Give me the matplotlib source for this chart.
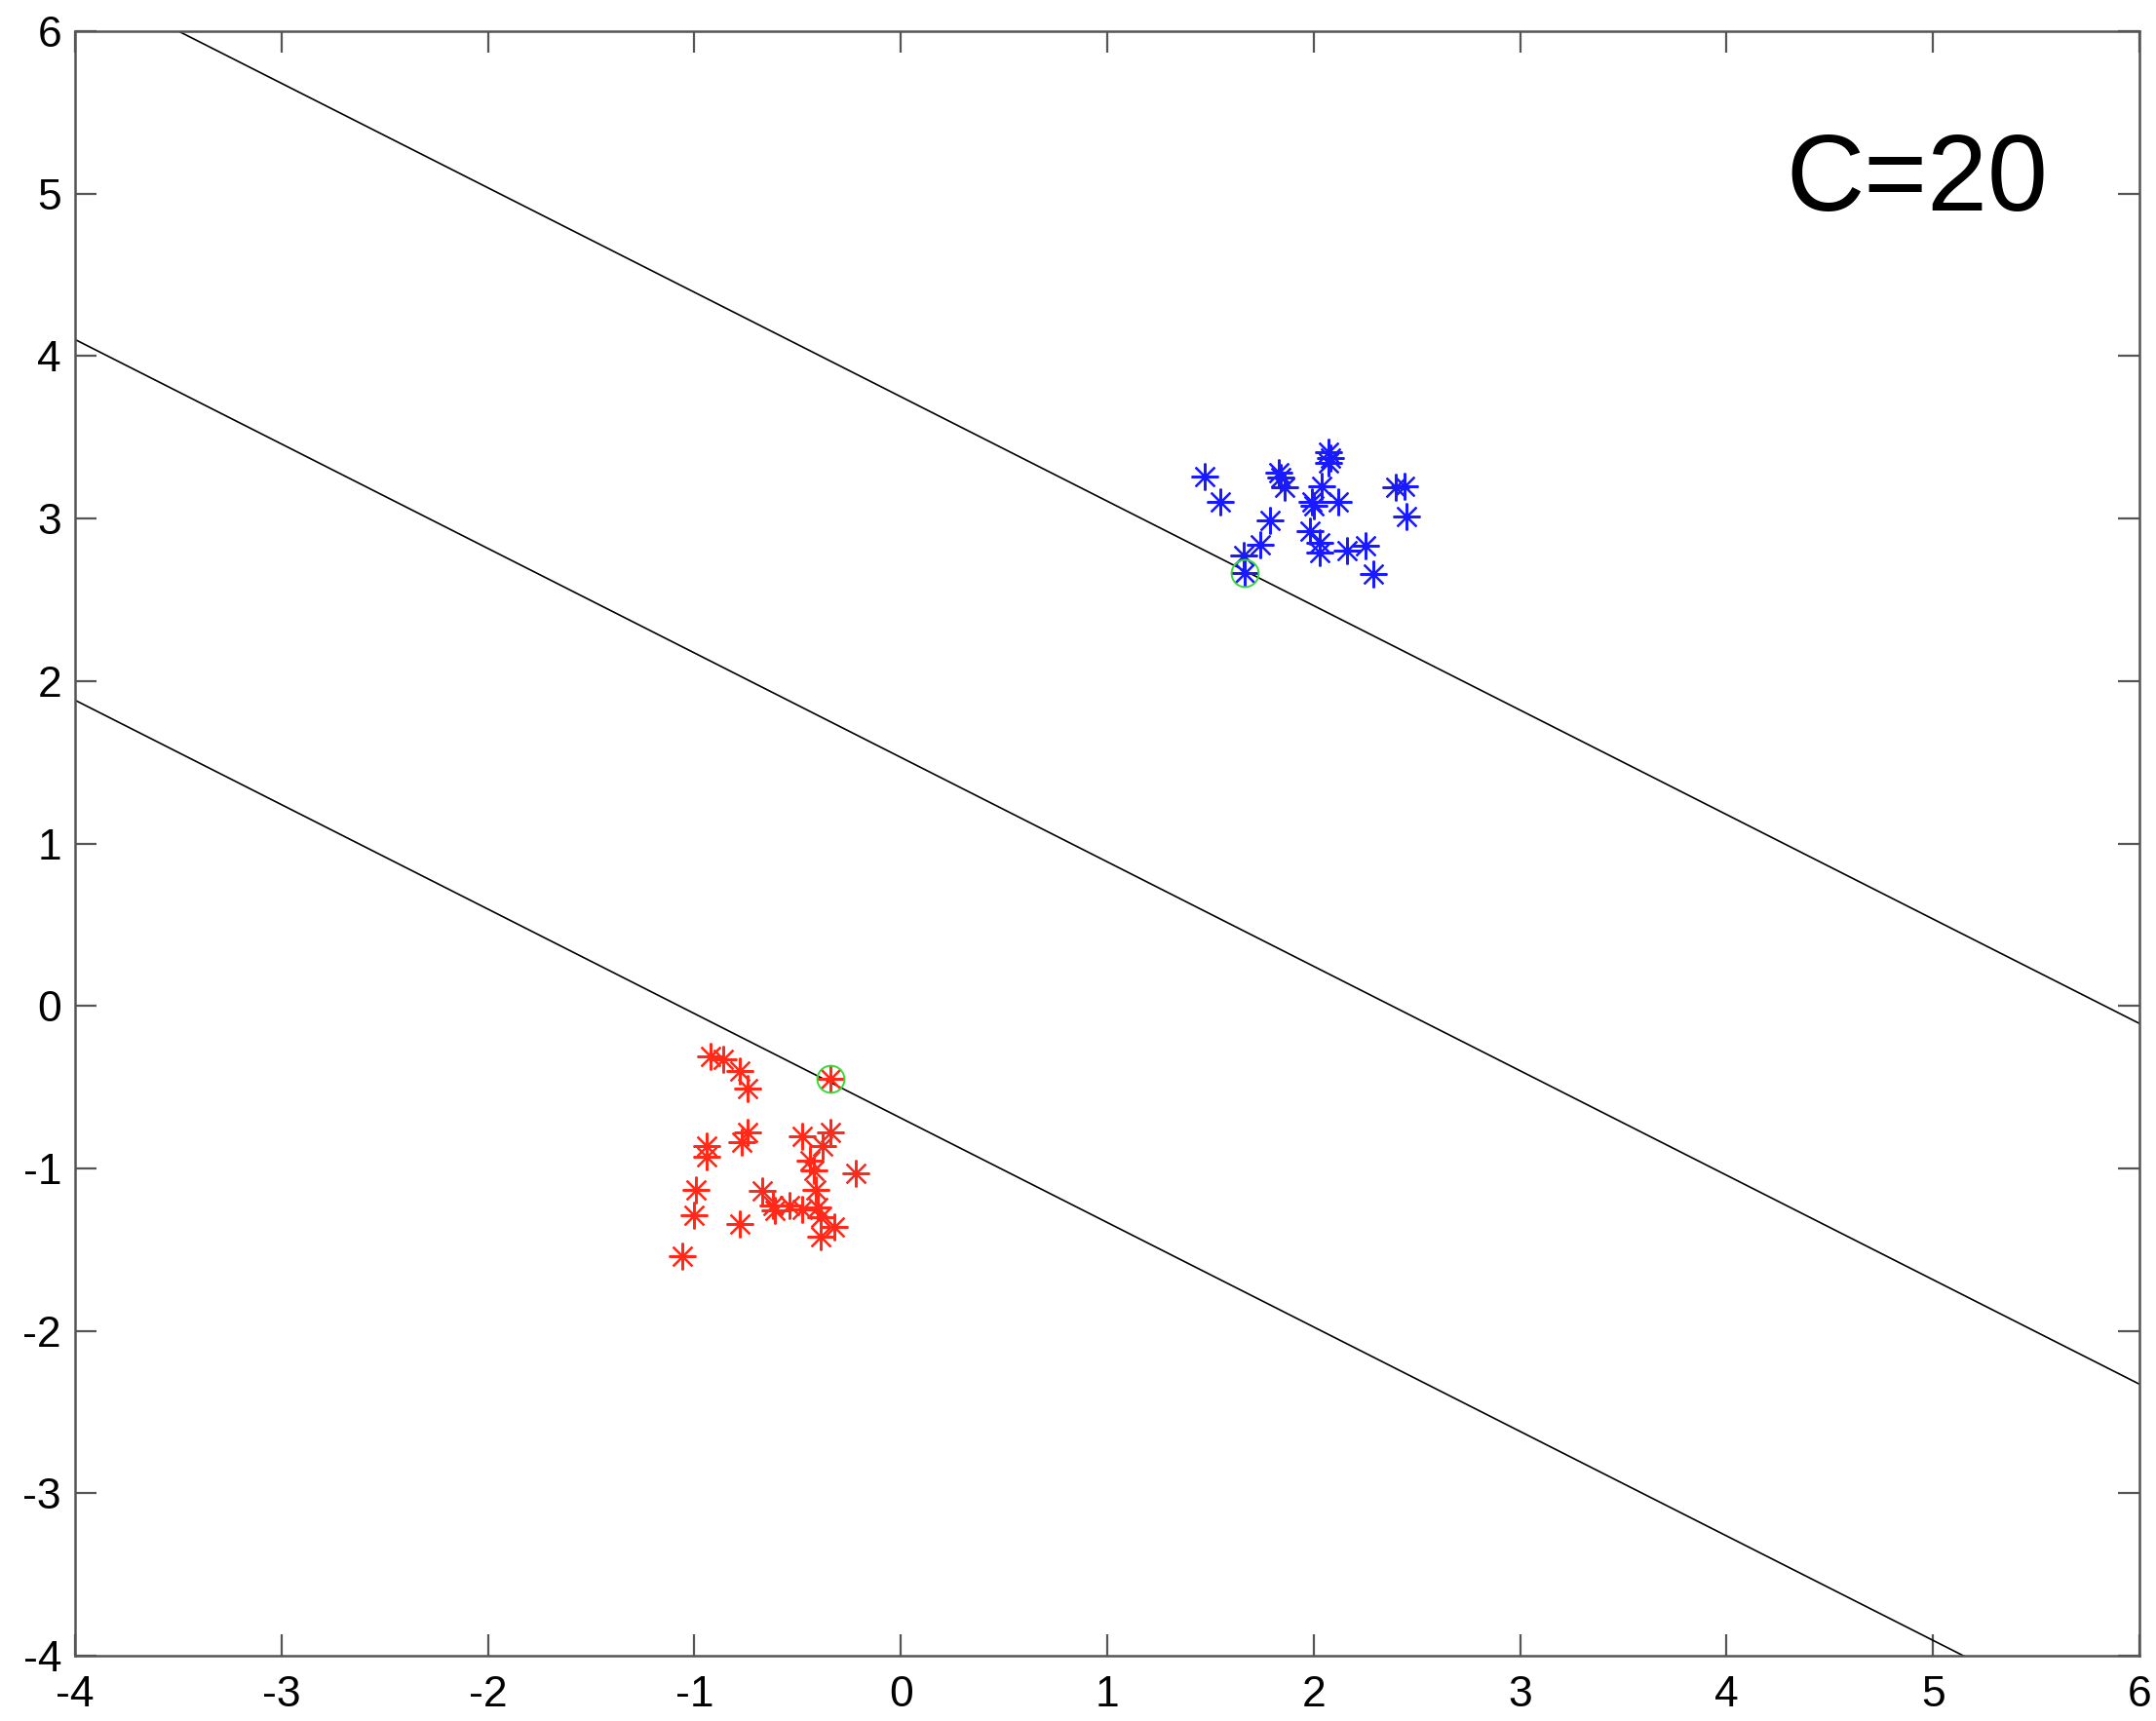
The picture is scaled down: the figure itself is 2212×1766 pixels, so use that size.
import numpy as np
import matplotlib
matplotlib.use('Agg')
import matplotlib.pyplot as plt

plt.rcParams['axes.unicode_minus'] = False

# class +1 (blue) and class -1 (red) samples
blue_x = [1.47, 1.55, 1.83, 1.84, 1.86, 1.79, 1.74, 1.66, 1.664, 2.07, 2.07, 2.08, 2.04, 1.99,
          2.00, 2.12, 1.98, 2.03, 2.03, 2.16, 2.25, 2.29, 2.40, 2.44, 2.45]
blue_y = [3.26, 3.10, 3.28, 3.25, 3.19, 2.99, 2.84, 2.77, 2.663, 3.41, 3.34, 3.37, 3.20, 3.10,
          3.08, 3.10, 2.92, 2.85, 2.79, 2.80, 2.83, 2.66, 3.19, 3.20, 3.01]
red_x = [-0.92, -0.86, -0.78, -0.74, -0.94, -0.94, -0.74, -0.77, -0.48, -0.34, -0.38, -0.44,
         -0.42, -0.22, -0.99, -1.00, -0.67, -0.62, -0.61, -0.54, -0.48, -0.40, -0.41, -0.32,
         -0.39, -0.78, -1.06, -0.39, -0.343]
red_y = [-0.31, -0.33, -0.40, -0.51, -0.86, -0.93, -0.78, -0.84, -0.80, -0.78, -0.86, -0.95,
         -1.01, -1.03, -1.13, -1.29, -1.14, -1.23, -1.26, -1.23, -1.25, -1.24, -1.13, -1.36,
         -1.42, -1.34, -1.54, -1.30, -0.447]

# support vectors
sv_x = [1.664, -0.343]
sv_y = [2.663, -0.447]

# separating line y = slope*x + b, and the two margins
slope = -0.643
intercepts = [3.75, 1.53, -0.69]

fig = plt.figure(figsize=(11.06, 8.83), dpi=200)
ax = fig.add_axes([0.0348, 0.0379, 0.9575, 0.944])

xs = np.array([-4.0, 6.0])
for b in intercepts:
    ax.plot(xs, slope * xs + b, color='black', lw=0.6)

star = (8, 2, 0)
ax.plot(blue_x, blue_y, linestyle='none', marker=star, ms=10, mec='#1a1aff', mew=0.8)
ax.plot(red_x, red_y, linestyle='none', marker=star, ms=10, mec='#ff2a1a', mew=0.8)
ax.plot(sv_x, sv_y, linestyle='none', marker='o', ms=10, mfc='none', mec='#33dd33', mew=0.7)

ax.text(4.29, 5.07, 'C=20', fontsize=40, family='Liberation Sans', ha='left', va='center')

ax.set_xlim(-4, 6)
ax.set_ylim(-4, 6)
ax.set_xticks(range(-4, 7))
ax.set_yticks(range(-4, 7))
ax.tick_params(direction='in', length=8, width=0.8, color='#555555', top=True, right=True,
               labelsize=16)
ax.tick_params(axis='x', pad=7)
ax.tick_params(axis='y', pad=5)
for lbl in ax.get_xticklabels() + ax.get_yticklabels():
    lbl.set_family('Liberation Sans')
for s in ax.spines.values():
    s.set_color('#555555')
    s.set_linewidth(0.9)

fig.savefig('out.png', dpi=200)
